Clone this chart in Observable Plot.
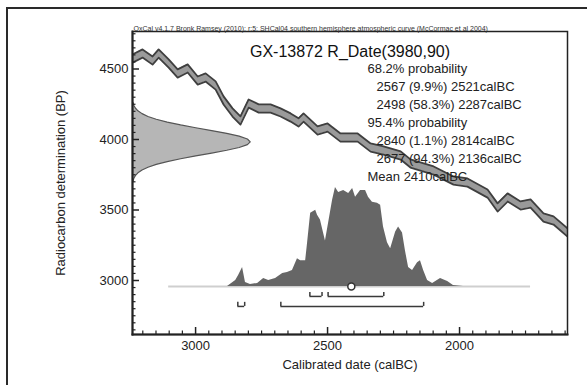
<!DOCTYPE html>
<html><head><meta charset="utf-8">
<script src="https://cdn.jsdelivr.net/npm/d3@7"></script>
<script src="https://cdn.jsdelivr.net/npm/@observablehq/plot@0.6"></script>
<style>
html,body{margin:0;padding:0;background:#fff;overflow:hidden;}
#wrap{position:relative;width:587px;height:385px;overflow:hidden;}
#outer{position:absolute;left:6px;top:7px;width:640px;height:440px;border:2px solid #2a2a2a;box-sizing:border-box;}
#chart{position:absolute;left:0;top:0;}
g[aria-label="oxcal-credit"] text{text-decoration:underline;}
</style></head><body>
<div id="wrap"><div id="outer"></div><div id="chart"></div></div>
<script>
// ---- data ----
const creditText = "OxCal v4.1.7 Bronk Ramsey (2010); r:5; SHCal04 southern hemisphere atmospheric curve (McCormac et al 2004)";
const titleText = "GX-13872 R_Date(3980,90)";
const xLabel = "Calibrated date (calBC)";
const yLabel = "Radiocarbon determination (BP)";
const xTickLabels = [3000, 2500, 2000];
const yTickLabels = [3000, 3500, 4000, 4500];

// calibration curve (calBC, BP centre)
const curveCal = [3239,3201,3163,3140,3102,3068,3030,2992,2962,2924,2894,2860,2830,2799,2761,2716,2678,2640,2610,2591,2538,2500,2451,2386,2337,2288,2223,2186,2098,2023,1970,1894,1856,1818,1769,1731,1682,1644,1591];
const curveBP  = [4574,4610,4560,4610,4539,4468,4504,4418,4440,4383,4277,4192,4135,4255,4220,4220,4192,4156,4121,4156,4064,4085,4014,4014,3943,3922,3887,3830,3780,3709,3695,3617,3518,3589,3532,3546,3447,3426,3341];
const curveSigma = 29;

// radiocarbon date distribution (BP, relative height)
const dateBP = [3700,3720,3740,3760,3780,3800,3820,3840,3860,3880,3900,3920,3940,3960,3980,4000,4020,4040,4060,4080,4100,4120,4140,4160,4180,4200,4220,4240,4260];
const dateP  = [0.008,0.015,0.028,0.050,0.085,0.135,0.205,0.298,0.411,0.539,0.674,0.801,0.906,0.976,1,0.976,0.906,0.801,0.674,0.539,0.411,0.298,0.205,0.135,0.085,0.050,0.028,0.015,0.008];

// calibrated distribution (calBC, relative probability)
const postCal = [2879,2848,2837,2822,2811,2792,2765,2742,2723,2697,2670,2652,2633,2614,2602,2583,2576,2564,2545,2538,2527,2508,2496,2481,2470,2458,2439,2420,2405,2394,2375,2356,2345,2330,2311,2299,2288,2273,2261,2242,2231,2216,2205,2193,2178,2159,2148,2136,2121,2102,2072,2045,2023,1985];
const postP   = [0,0.06,0.11,0.19,0.04,0.02,0.03,0.08,0.06,0.08,0.13,0.14,0.16,0.28,0.26,0.26,0.43,0.74,0.77,0.72,0.67,0.46,0.64,0.87,1.0,0.95,0.97,0.94,0.99,0.90,0.97,0.97,0.90,0.85,0.84,0.82,0.60,0.44,0.38,0.55,0.60,0.54,0.36,0.19,0.16,0.24,0.26,0.16,0.06,0.03,0.08,0.05,0.01,0];
const postRange = [3102, 1731];

const range68 = [[2567, 9.9, 2521], [2498, 58.3, 2287]];
const range95 = [[2840, 1.1, 2814], [2677, 94.3, 2136]];
const meanCal = 2410;

// ---- layout constants ----
const W = 587, H = 385, mL = 132, mR = 20, mT = 31, mB = 51;
const fW = W - mL - mR, fH = H - mT - mB;
const xDom = [3239, 1591], yDom = [2617, 4766];
const postBase = 2958, postScale = 702, gaussWidth = 448;
const b68 = [2887, 2915], b95 = [2816, 2845];

const curve = curveCal.map((c, i) => ({cal: c, bp: curveBP[i]}));
const gauss = dateBP.map((b, i) => ({bp: b, p: dateP[i]}));
const post = postCal.map((c, i) => ({cal: c, p: postP[i]}));

const xMinor = d3.range(1600, 3240, 50).filter(v => v % 500 !== 0);
const yMinor = d3.range(2650, 4766, 50).filter(v => v % 500 !== 0);
const xMajor = d3.range(1500, 3240, 500).filter(v => v >= 1591);
const yMajor = d3.range(3000, 4766, 500);

function bracketMarks(ranges, yy) {
  return [
    Plot.ruleY(ranges, {x1: d => d[0], x2: d => d[2], y: yy[0], stroke: "#3a3a3a", strokeWidth: 1.5}),
    Plot.ruleX(ranges, {x: d => d[0], y1: yy[0], y2: yy[1], stroke: "#3a3a3a", strokeWidth: 1.5}),
    Plot.ruleX(ranges, {x: d => d[2], y1: yy[0], y2: yy[1], stroke: "#3a3a3a", strokeWidth: 1.5})
  ];
}

const fmtRange = d => `${d[0]} (${d[1]}%) ${d[2]}calBC`;
const annot = [
  {t: "68.2% probability", dx: 235},
  ...range68.map(d => ({t: fmtRange(d), dx: 244})),
  {t: "95.4% probability", dx: 235},
  ...range95.map(d => ({t: fmtRange(d), dx: 244})),
  {t: `Mean ${meanCal}calBC`, dx: 235}
];

const chart = Plot.plot({
  width: W, height: H,
  marginLeft: mL, marginRight: mR, marginTop: mT, marginBottom: mB,
  x: {domain: xDom},
  y: {domain: yDom},
  style: {fontFamily: "'Liberation Sans', Arial, sans-serif", color: "#222", background: "transparent"},
  marks: [
    // calibration curve band
    Plot.areaY(curve, {x: "cal", y1: d => d.bp - curveSigma, y2: d => d.bp + curveSigma, fill: "#9a9a9a", clip: true}),
    Plot.line(curve, {x: "cal", y: d => d.bp + curveSigma, stroke: "#3f3f3f", strokeWidth: 1.8, clip: true}),
    Plot.line(curve, {x: "cal", y: d => d.bp - curveSigma, stroke: "#3f3f3f", strokeWidth: 1.8, clip: true}),
    // radiocarbon date gaussian
    Plot.areaX(gauss, {y: "bp", x1: xDom[0], x2: d => xDom[0] - d.p * gaussWidth, fill: "#b6b6b6", stroke: "#555", strokeWidth: 1.2, clip: true}),
    // baseline of calibrated distribution
    Plot.ruleY([postBase], {x1: postRange[0], x2: postRange[1], stroke: "#cfcfcf", strokeWidth: 2}),
    // calibrated distribution
    Plot.areaY(post, {x: "cal", y1: postBase, y2: d => postBase + d.p * postScale, fill: "#666666", curve: "linear"}),
    // ranges
    ...bracketMarks(range68, b68),
    ...bracketMarks(range95, b95),
    // mean
    Plot.dot([meanCal], {x: d => d, y: postBase, r: 3.5, fill: "white", stroke: "#333", strokeWidth: 1.5}),
    // ticks (inside)
    Plot.ruleX(xMinor, {x: d => d, insetTop: fH - 3.5, stroke: "#222", strokeWidth: 1.2}),
    Plot.ruleX(xMajor, {x: d => d, insetTop: fH - 7, stroke: "#222", strokeWidth: 1.5}),
    Plot.ruleY(yMinor, {y: d => d, insetRight: fW - 3.5, stroke: "#222", strokeWidth: 1.2}),
    Plot.ruleY(yMajor, {y: d => d, insetRight: fW - 7, stroke: "#222", strokeWidth: 1.5}),
    Plot.axisX({ticks: xTickLabels, tickSize: 0, tickPadding: 6, tickFormat: d => String(d), fontSize: 13, label: null}),
    Plot.axisY({ticks: yTickLabels, tickSize: 0, tickPadding: 4, tickFormat: d => String(d), fontSize: 13, label: null}),
    Plot.frame({stroke: "#222", strokeWidth: 1.5}),
    Plot.frame({anchor: "left", stroke: "#222", strokeWidth: 2}),
    Plot.frame({anchor: "bottom", stroke: "#222", strokeWidth: 2}),
    // texts
    Plot.text([creditText], {text: d => d, frameAnchor: "top-left", dx: 1, dy: -5, fontSize: 7, textAnchor: "start", fill: "#333", ariaLabel: "oxcal-credit"}),
    Plot.text([titleText], {text: d => d, frameAnchor: "top", dy: 14, fontSize: 16, fill: "#111"}),
    ...annot.map((a, i) => Plot.text([a.t], {text: d => d, frameAnchor: "top-left", dx: a.dx, dy: 32 + i * 18, fontSize: 13, textAnchor: "start", fill: "#222"})),
    Plot.text([yLabel], {text: d => d, frameAnchor: "left", textAnchor: "middle", dx: -72, rotate: -90, fontSize: 13, fill: "#222"}),
    Plot.text([xLabel], {text: d => d, frameAnchor: "bottom", dy: 34, fontSize: 13, fill: "#222"})
  ]
});
document.getElementById("chart").appendChild(chart);
</script></body></html>
